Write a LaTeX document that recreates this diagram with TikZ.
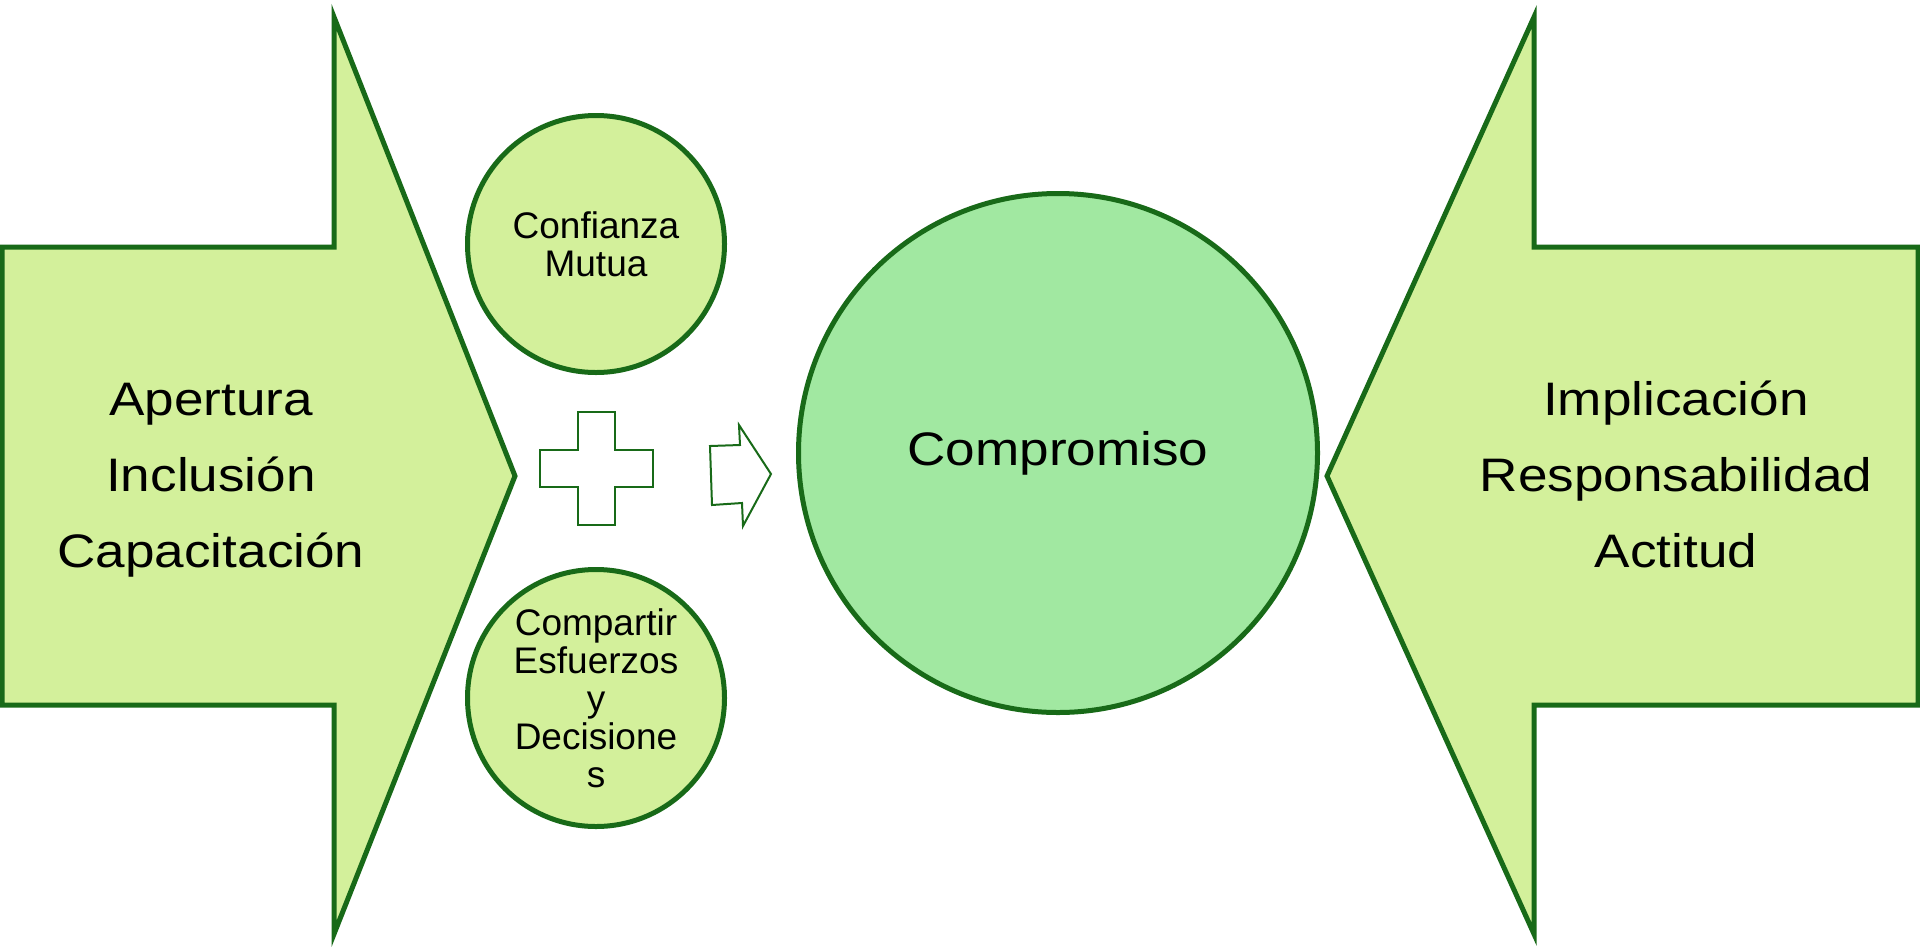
\documentclass[tikz,border=0pt]{standalone}
\usepackage{fontspec}
\setmainfont{Liberation Sans}
\definecolor{leafFill}{RGB}{211,240,155}
\definecolor{coreFill}{RGB}{161,232,161}
\definecolor{leafLine}{RGB}{24,106,24}
\newcommand{\wide}[1]{\scalebox{1.13}[1]{#1}}
\begin{document}
\begin{tikzpicture}[x=1pt,y=-1pt,
    bigArrow/.style={draw=leafLine,fill=leafFill,line width=5pt,line join=miter},
    thinMark/.style={draw=leafLine,fill=white,line width=2pt,line join=miter},
    smallBall/.style={circle,draw=leafLine,fill=leafFill,line width=5pt,minimum size=257pt,
        inner sep=0pt,align=center,font=\fontsize{37}{38}\selectfont},
    bigBall/.style={circle,draw=leafLine,fill=coreFill,line width=5pt,minimum size=519pt,
        inner sep=0pt,font=\fontsize{47}{76}\selectfont},
    bigText/.style={align=center,inner sep=0pt,font=\fontsize{47}{76}\selectfont}]
    \useasboundingbox (0,0) rectangle (1920,946);

    \draw[bigArrow] (2,247) -- (334,247) -- (334,17) -- (515,476) -- (334,934)
        -- (334,705) -- (2,705) -- cycle;
    \draw[bigArrow] (1918,247) -- (1534,247) -- (1534,17) -- (1327,476) -- (1534,934)
        -- (1534,705) -- (1918,705) -- cycle;

    \node[bigText] (apertura) at (211,480) {\wide{Apertura}\\\wide{Inclusión}\\\wide{Capacitación}};
    \node[bigText] (implicacion) at (1676,474) {\wide{Implicación}\\\wide{Responsabilidad}\\\wide{Actitud}};

    \node[smallBall] (confianza) at (596,244) {Confianza\\Mutua};
    \node[smallBall] (compartir) at (596,698) {Compartir\\Esfuerzos\\y\\Decisione\\s};

    \draw[thinMark] (578,412) -- (615,412) -- (615,450) -- (653,450) -- (653,487) -- (615,487)
        -- (615,525) -- (578,525) -- (578,487) -- (540,487) -- (540,450) -- (578,450) -- cycle;
    \draw[thinMark] (710,446) -- (740,445) -- (739,425) -- (771,474) -- (743,526)
        -- (742,503) -- (712,505) -- cycle;

    \node[bigBall] (compromiso) at (1058,453) {\wide{Compromiso}};
\end{tikzpicture}
\end{document}
